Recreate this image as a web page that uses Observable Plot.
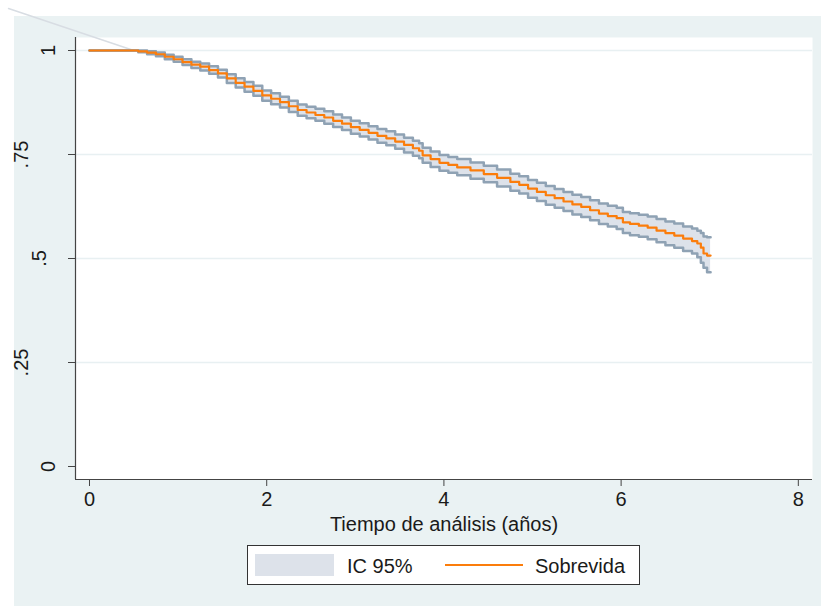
<!DOCTYPE html>
<html>
<head>
<meta charset="utf-8">
<script src="https://cdn.jsdelivr.net/npm/d3@7"></script>
<script src="https://cdn.jsdelivr.net/npm/@observablehq/plot@0.6"></script>
<style>
  html, body { margin: 0; padding: 0; background: #ffffff; }
  body { width: 821px; height: 606px; position: relative; overflow: hidden;
         font-family: "Liberation Sans", Arial, sans-serif; }
  #bg { position: absolute; left: 14px; top: 16px; width: 807px; height: 590px; background: #eaf2f3; }
  #chart { position: absolute; left: 0; top: 0; }
  .abs { position: absolute; }
  #legend { left: 247px; top: 545px; width: 391px; height: 38px; border: 1px solid #333; background: #fff; }
  #sw-band { left: 255px; top: 554px; width: 79px; height: 22px; background: #dde2ea; }
  #sw-line { left: 445px; top: 564px; width: 78px; height: 2px; background: #fb7d0c; }
  .lt { font-size: 20px; line-height: 20px; color: #1a1a1a; white-space: nowrap; }
</style>
</head>
<body>
<div id="bg"></div>
<div id="chart" class="abs"></div>
<div id="legend" class="abs"></div>
<div id="sw-band" class="abs"></div>
<div id="lab-band" class="abs lt" style="left:347px; top:556px;"></div>
<div id="sw-line" class="abs"></div>
<div id="lab-line" class="abs lt" style="left:535px; top:556px;"></div>
<script>
// ---- data ----
const times = [0, 0.5, 0.55, 0.65, 0.75, 0.85, 0.95, 1.05, 1.15, 1.25, 1.35, 1.45, 1.55, 1.65, 1.75, 1.85, 1.95,
  2.05, 2.15, 2.25, 2.35, 2.45, 2.55, 2.65, 2.75, 2.85, 2.95, 3.05, 3.15, 3.25, 3.35, 3.45, 3.55, 3.65, 3.72, 3.76,
  3.85, 3.95, 4.05, 4.15, 4.3, 4.45, 4.6, 4.75, 4.85, 4.95, 5.05, 5.15, 5.25, 5.35, 5.45, 5.55, 5.65, 5.75, 5.85,
  5.95, 6.02, 6.1, 6.2, 6.3, 6.4, 6.5, 6.6, 6.7, 6.8, 6.86, 6.9, 6.93, 6.97, 7.01];
const survival = [1, 1, 0.998, 0.995, 0.991, 0.985, 0.979, 0.972, 0.966, 0.961, 0.953, 0.945, 0.933, 0.922, 0.913, 0.903, 0.892,
  0.884, 0.876, 0.866, 0.857, 0.851, 0.845, 0.839, 0.831, 0.824, 0.816, 0.809, 0.802, 0.795, 0.789, 0.781, 0.773, 0.765, 0.759, 0.748,
  0.739, 0.730, 0.725, 0.719, 0.712, 0.703, 0.694, 0.684, 0.677, 0.668, 0.660, 0.652, 0.645, 0.637, 0.630, 0.624, 0.616, 0.608, 0.602,
  0.597, 0.587, 0.583, 0.579, 0.574, 0.567, 0.561, 0.555, 0.548, 0.542, 0.536, 0.526, 0.512, 0.507, 0.507];
const lower95 = [1, 1, 0.996, 0.991, 0.986, 0.979, 0.973, 0.965, 0.958, 0.952, 0.944, 0.935, 0.922, 0.911, 0.901, 0.891, 0.879,
  0.871, 0.863, 0.852, 0.843, 0.837, 0.831, 0.824, 0.816, 0.809, 0.800, 0.793, 0.786, 0.778, 0.772, 0.764, 0.755, 0.747, 0.741, 0.730,
  0.720, 0.711, 0.706, 0.700, 0.692, 0.683, 0.673, 0.663, 0.656, 0.646, 0.638, 0.629, 0.622, 0.614, 0.606, 0.600, 0.592, 0.583, 0.577,
  0.571, 0.561, 0.556, 0.552, 0.546, 0.539, 0.532, 0.526, 0.518, 0.512, 0.503, 0.490, 0.478, 0.467, 0.467];
const upper95 = [1, 1, 1.000, 0.998, 0.995, 0.990, 0.985, 0.979, 0.973, 0.969, 0.962, 0.954, 0.943, 0.933, 0.924, 0.915, 0.904,
  0.897, 0.889, 0.879, 0.870, 0.865, 0.860, 0.854, 0.846, 0.839, 0.831, 0.825, 0.818, 0.811, 0.806, 0.798, 0.790, 0.783, 0.777, 0.766,
  0.757, 0.749, 0.744, 0.739, 0.731, 0.723, 0.714, 0.704, 0.698, 0.689, 0.682, 0.674, 0.667, 0.660, 0.653, 0.648, 0.640, 0.632, 0.627,
  0.622, 0.612, 0.609, 0.605, 0.601, 0.595, 0.589, 0.584, 0.577, 0.572, 0.567, 0.561, 0.553, 0.551, 0.551];
// faint stray line seen at the top-left of the reference
const strayT = [-0.914, 0.5];
const strayS = [1.101, 1.0];

const xTicks = [0, 2, 4, 6, 8];
const yTicks = [0, 0.25, 0.5, 0.75, 1];
const yTickLabels = ["0", ".25", ".5", ".75", "1"];
const yGrid = [0.25, 0.5, 0.75, 1];
const xTitle = "Tiempo de análisis (años)";
const legendLabels = ["IC 95%", "Sobrevida"];

// ---- build ----
const km = times.map((t, i) => ({t, s: survival[i], lo: lower95[i], hi: upper95[i]}));
const stray = strayT.map((t, i) => ({t, s: strayS[i]}));
const xDomain = [-0.158, 8.16];
const yDomain = [-0.03125, 1.03125];
const FONT = "20px 'Liberation Sans', Arial, sans-serif";
const ctx = document.createElement("canvas").getContext("2d");
ctx.font = FONT;

const yLabelMarks = yTicks.map((v, i) => {
  const w = ctx.measureText(yTickLabels[i]).width;
  const cx = 66 - 1.6 * w;          // Stata-style offset for vertical labels
  return Plot.text([v], {y: d => d, text: () => yTickLabels[i], frameAnchor: "left",
    dx: cx - 75, rotate: -90, textAnchor: "middle", lineAnchor: "middle", fill: "#1a1a1a"});
});

const chart = Plot.plot({
  width: 821, height: 606,
  marginLeft: 75, marginRight: 9, marginTop: 37, marginBottom: 127,
  style: {background: "transparent", fontSize: "20px", fontFamily: "'Liberation Sans', Arial, sans-serif", color: "#1a1a1a"},
  x: {domain: xDomain},
  y: {domain: yDomain},
  marks: [
    Plot.frame({fill: "white", stroke: "none"}),
    Plot.gridY(yGrid, {stroke: "#e8f0f2", strokeOpacity: 1, strokeWidth: 1.5}),
    Plot.line(stray, {x: "t", y: "s", stroke: "#d8dde3", strokeWidth: 1.5, clip: false}),
    Plot.areaY(km, {x: "t", y1: "lo", y2: "hi", curve: "step-after", fill: "#dde2ea"}),
    Plot.line(km, {x: "t", y: "lo", curve: "step-after", stroke: "#8fa2b4", strokeWidth: 2.5}),
    Plot.line(km, {x: "t", y: "hi", curve: "step-after", stroke: "#8fa2b4", strokeWidth: 2.5}),
    Plot.line(km, {x: "t", y: "s", curve: "step-after", stroke: "#fb7d0c", strokeWidth: 2.2}),
    Plot.ruleX([xDomain[0]], {stroke: "#444", strokeWidth: 1.2}),
    Plot.ruleY([yDomain[0]], {stroke: "#444", strokeWidth: 1.2}),
    Plot.axisX(xTicks, {tickSize: 7, tickPadding: 5, label: null, stroke: "#444", fill: "#1a1a1a"}),
    Plot.axisY(yTicks, {tickSize: 7, tickFormat: () => "", label: null, stroke: "#444"}),
    ...yLabelMarks,
    Plot.text([xTitle], {text: d => d, frameAnchor: "bottom", dy: 45, lineAnchor: "middle", fill: "#1a1a1a"})
  ]
});
document.getElementById("chart").append(chart);
document.getElementById("lab-band").textContent = legendLabels[0];
document.getElementById("lab-line").textContent = legendLabels[1];
</script>
</body>
</html>
